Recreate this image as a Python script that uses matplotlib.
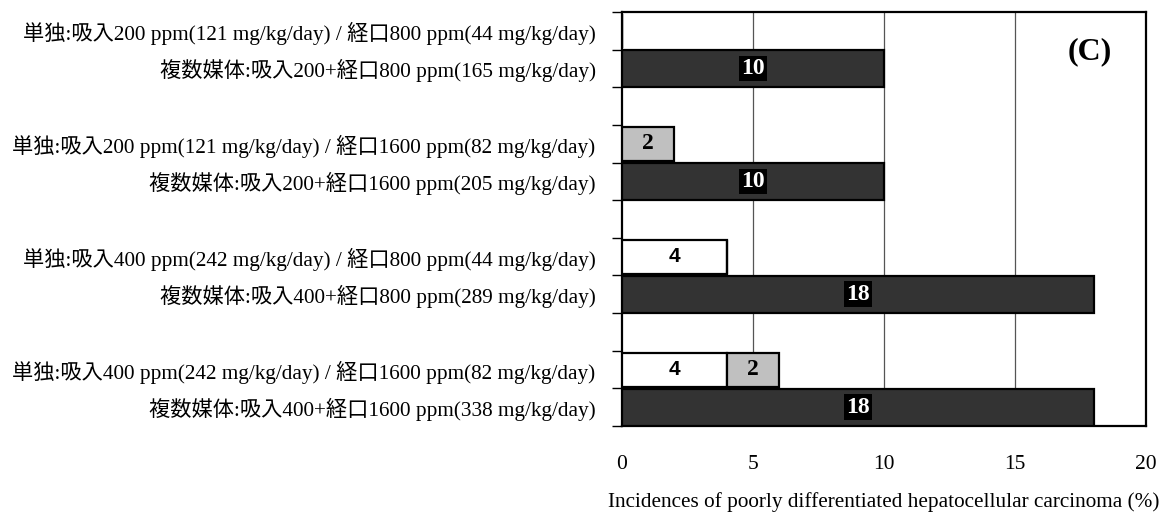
"""Incidence of poorly differentiated hepatocellular carcinoma, panel (C)."""
import matplotlib
matplotlib.use("Agg")
import matplotlib.pyplot as plt
import numpy as np

plt.rcParams["font.family"] = ["Liberation Serif", "Noto Sans CJK JP"]

SINGLE_LABELS = [
    "単独:吸入200 ppm(121 mg/kg/day) / 経口800 ppm(44 mg/kg/day)",
    "単独:吸入200 ppm(121 mg/kg/day) / 経口1600 ppm(82 mg/kg/day)",
    "単独:吸入400 ppm(242 mg/kg/day) / 経口800 ppm(44 mg/kg/day)",
    "単独:吸入400 ppm(242 mg/kg/day) / 経口1600 ppm(82 mg/kg/day)",
]
MULTI_LABELS = [
    "複数媒体:吸入200+経口800 ppm(165 mg/kg/day)",
    "複数媒体:吸入200+経口1600 ppm(205 mg/kg/day)",
    "複数媒体:吸入400+経口800 ppm(289 mg/kg/day)",
    "複数媒体:吸入400+経口1600 ppm(338 mg/kg/day)",
]
INHAL_SINGLE = [0, 0, 4, 4]
ORAL_SINGLE = [0, 2, 0, 2]
MULTI = [10, 10, 18, 18]

XTICKS = [0, 5, 10, 15, 20]
XLABEL = "Incidences of poorly differentiated hepatocellular carcinoma (%)"

DARK = "#333333"
GREY = "#c0c0c0"


def main() -> None:
    fig = plt.figure(figsize=(11.67, 5.19), dpi=100)
    ax = fig.add_axes([0.533, 0.179, 0.449, 0.798])

    n = len(MULTI)
    y_single = np.arange(n) * 3
    y_multi = y_single + 1

    ax.barh(y_single, INHAL_SINGLE, height=0.9, color="white",
            edgecolor="black", linewidth=1.6, zorder=3)
    ax.barh(y_single, ORAL_SINGLE, left=INHAL_SINGLE, height=0.9, color=GREY,
            edgecolor="black", linewidth=1.6, zorder=3)
    ax.barh(y_multi, MULTI, height=0.97, color=DARK,
            edgecolor="black", linewidth=1.6, zorder=3)

    for i in range(n):
        if INHAL_SINGLE[i] > 0:
            ax.text(INHAL_SINGLE[i] / 2, y_single[i], str(INHAL_SINGLE[i]),
                    ha="center", va="center", fontsize=15, fontweight="bold",
                    family="Liberation Sans", zorder=4)
        if ORAL_SINGLE[i] > 0:
            ax.text(INHAL_SINGLE[i] + ORAL_SINGLE[i] / 2, y_single[i],
                    str(ORAL_SINGLE[i]), ha="center", va="center",
                    fontsize=17, fontweight="bold", zorder=4)
        ax.text(MULTI[i] / 2, y_multi[i], str(MULTI[i]), ha="center",
                va="center", fontsize=17, fontweight="bold", color="white",
                zorder=4,
                bbox=dict(boxstyle="square,pad=0.1", fc="black", ec="none"))

    ax.set_xlim(0, 20)
    ax.set_ylim(3 * n - 1.5, -0.5)

    ax.set_xticks(XTICKS)
    ax.set_xticklabels([str(t) for t in XTICKS])
    ax.tick_params(axis="x", length=0, pad=21, labelsize=15.5)
    ax.set_xlabel(XLABEL, fontsize=15.3, labelpad=13)

    centers = np.sort(np.concatenate([y_single, y_multi]))
    labels = []
    for i in range(n):
        labels += [SINGLE_LABELS[i], MULTI_LABELS[i]]
    ax.set_yticks(centers)
    ax.set_yticklabels(labels)
    ax.tick_params(axis="y", which="major", length=0, pad=19, labelsize=15.3)
    ax.set_yticks(np.arange(-0.5, 3 * n - 1, 1.0), minor=True)
    ax.tick_params(axis="y", which="minor", length=7, width=1.0,
                   direction="out")

    for v in XTICKS[1:-1]:
        ax.axvline(v, color="#555555", linewidth=0.9, zorder=1)

    for side in ["top", "bottom", "left", "right"]:
        ax.spines[side].set_linewidth(1.6)

    ax.text(0.893, 0.905, "(C)", transform=ax.transAxes, ha="center",
            va="center", fontsize=23, fontweight="bold")

    fig.savefig("out.png", dpi=100)


if __name__ == "__main__":
    main()
